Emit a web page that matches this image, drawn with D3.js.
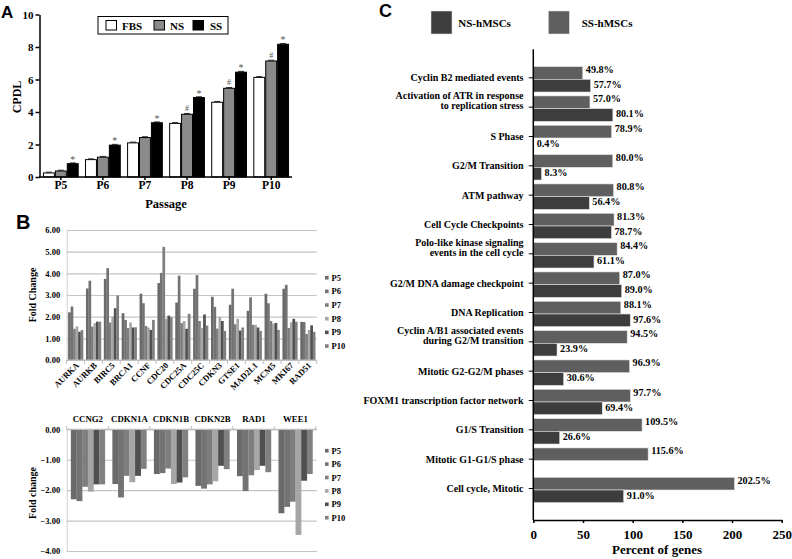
<!DOCTYPE html>
<html><head><meta charset="utf-8">
<script src="https://cdn.jsdelivr.net/npm/d3@7"></script>
<style>
body{margin:0;background:#fff}
svg{display:block}
text{font-family:"Liberation Serif","Times New Roman",serif;font-weight:bold;fill:#000}
</style>
</head><body>
<svg id="c" width="792" height="559"></svg>
<script>
// ---------- Panel A data ----------
const passages = ["P5","P6","P7","P8","P9","P10"];
const groupsA = ["FBS","NS","SS"];
const cpdlFBS = [0.25,1.07,2.10,3.30,4.60,6.13];
const cpdlNS  = [0.37,1.22,2.43,3.86,5.46,7.14];
const cpdlSS  = [0.82,1.96,3.34,4.89,6.45,8.17];
const markNS  = ["","","","#","#","#"];
const markSS  = ["*","*","*","*","*","*"];
const ticksA  = [0,2,4,6,8,10];

// ---------- Panel B data ----------
const seriesB = ["P5","P6","P7","P8","P9","P10"];
const genesUp = ["AURKA","AURKB","BIRC5","BRCA1","CCNF","CDC20","CDC25A","CDC25C","CDKN3","GTSE1","MAD2L1","MCM5","MKI67","RAD51"];
const upP5  = [2.20,3.30,3.74,2.16,3.06,3.55,2.65,3.29,2.92,2.55,2.27,3.06,3.29,1.76];
const upP6  = [2.47,3.66,4.24,1.85,2.62,4.02,3.89,3.92,2.45,3.29,2.89,2.62,3.47,1.75];
const upP7  = [1.44,1.54,1.73,1.47,1.57,5.22,1.70,1.80,1.45,1.65,1.62,1.80,1.48,1.20];
const upP8  = [1.55,1.70,2.00,1.73,1.50,1.90,1.80,1.48,1.98,1.90,1.62,1.68,1.74,1.39];
const upP9  = [1.30,1.77,2.39,1.50,1.39,2.05,1.44,2.10,1.80,1.36,1.50,1.71,1.90,1.60];
const upP10 = [1.38,1.77,2.98,1.51,1.85,1.98,2.13,1.59,1.34,1.50,1.34,1.39,1.77,1.30];
const ticksBUp = [0,1,2,3,4,5,6];

const genesDown = ["CCNG2","CDKN1A","CDKN1B","CDKN2B","RAD1","WEE1"];
const downP5  = [-2.30,-1.80,-1.47,-1.86,-1.54,-2.76];
const downP6  = [-2.36,-2.24,-1.44,-1.95,-2.03,-2.55];
const downP7  = [-1.89,-1.53,-1.29,-1.81,-1.51,-2.38];
const downP8  = [-2.05,-1.74,-1.80,-1.71,-1.34,-3.47];
const downP9  = [-1.81,-1.53,-1.75,-1.20,-1.20,-1.69];
const downP10 = [-1.81,-1.30,-1.58,-1.31,-1.41,-1.47];
const ticksBDown = [0,-1,-2,-3,-4];

// ---------- Panel C data ----------
const pathways = [
  "Cyclin B2 mediated events",
  "Activation of ATR in response|to replication stress",
  "S Phase",
  "G2/M Transition",
  "ATM pathway",
  "Cell Cycle Checkpoints",
  "Polo-like kinase signaling|events in the cell cycle",
  "G2/M DNA damage checkpoint",
  "DNA Replication",
  "Cyclin A/B1 associated events|during G2/M transition",
  "Mitotic G2-G2/M phases",
  "FOXM1 transcription factor network",
  "G1/S Transition",
  "Mitotic G1-G1/S phase",
  "Cell cycle, Mitotic"
];
const pctSS = [49.8,57.0,78.9,80.0,80.8,81.3,84.4,87.0,88.1,94.5,96.9,97.7,109.5,115.6,202.5];
const pctNS = [57.7,80.1,0.4,8.3,56.4,78.7,61.1,89.0,97.6,23.9,30.6,69.4,26.6,null,91.0];
const ticksC = [0,50,100,150,200,250];
const legendC = ["NS-hMSCs","SS-hMSCs"];

// ================= drawing =================
const svg = d3.select("#c");
svg.append("rect").attr("width",792).attr("height",559).attr("fill","#fff");

function panelLetter(t,x,y,s){
  svg.append("text").attr("x",x).attr("y",y).text(t)
    .style("font-family","'Liberation Sans',Arial,sans-serif").style("font-size",s+"px");
}
panelLetter("A",1,18,17);
panelLetter("B",16,229,20);
panelLetter("C",379,17,18);

// ---------- Panel A ----------
{
  const g = svg.append("g");
  const x = d3.scaleBand().domain(passages).range([40,292]).paddingInner(0.15).paddingOuter(0.07);
  const xi = d3.scaleBand().domain(groupsA).range([0,x.bandwidth()]);
  const y = d3.scaleLinear().domain([0,10]).range([177,14.5]);
  const vals = {FBS:cpdlFBS, NS:cpdlNS, SS:cpdlSS};
  const fills = {FBS:"#ffffff", NS:"#8a8a8a", SS:"#000000"};
  passages.forEach((p,i)=>{
    groupsA.forEach(k=>{
      const v = vals[k][i];
      g.append("rect").attr("x",x(p)+xi(k)+0.5).attr("y",y(v))
        .attr("width",xi.bandwidth()-1).attr("height",y(0)-y(v))
        .attr("fill",fills[k]).attr("stroke","#000").attr("stroke-width",1);
      g.append("line").attr("x1",x(p)+xi(k)+3).attr("x2",x(p)+xi(k)+xi.bandwidth()-3)
        .attr("y1",y(v)-0.8).attr("y2",y(v)-0.8).attr("stroke","#000").attr("stroke-width",0.8);
    });
    if(markNS[i]) g.append("text").attr("x",x(p)+xi("NS")+xi.bandwidth()/2).attr("y",y(cpdlNS[i])-3)
      .attr("text-anchor","middle").style("font-size","8px").style("fill","#555").style("font-weight","normal").text(markNS[i]);
    if(markSS[i]) g.append("text").attr("x",x(p)+xi("SS")+xi.bandwidth()/2).attr("y",y(cpdlSS[i])-1)
      .attr("text-anchor","middle").style("font-size","10px").style("fill","#555").style("font-weight","normal").text(markSS[i]);
  });
  const ax = g.append("g").attr("transform","translate(39.5,0)")
    .call(d3.axisLeft(y).tickValues(ticksA).tickSize(4).tickSizeOuter(0).tickPadding(2));
  ax.selectAll("text").style("font-size","11px").style("font-family","'Liberation Serif',serif");
  ax.selectAll("path,line").attr("stroke","#000").attr("stroke-width",1.5);
  const bx = g.append("g").attr("transform","translate(0,177)")
    .call(d3.axisBottom(x).tickSize(3).tickSizeOuter(0).tickPadding(1));
  bx.select(".domain").attr("d","M39,0H292");
  bx.selectAll("text").style("font-size","11.5px").style("font-family","'Liberation Serif',serif");
  bx.selectAll("path,line").attr("stroke","#000").attr("stroke-width",1.5);
  g.append("text").attr("transform","translate(20.5,97) rotate(-90)").attr("text-anchor","middle")
    .style("font-size","12px").text("CPDL");
  g.append("text").attr("x",166).attr("y",208).attr("text-anchor","middle")
    .style("font-size","12.5px").text("Passage");
  g.append("rect").attr("x",98).attr("y",16.5).attr("width",130).attr("height",17.5)
    .attr("fill","#fff").attr("stroke","#000").attr("stroke-width",1);
  const lx = [106,154,193], tx=[122,170,210];
  groupsA.forEach((k,i)=>{
    g.append("rect").attr("x",lx[i]).attr("y",20.5).attr("width",10.5).attr("height",9.5)
      .attr("fill",fills[k]).attr("stroke","#000").attr("stroke-width",1);
    g.append("text").attr("x",tx[i]).attr("y",29.5).style("font-size","11px").text(k);
  });
}

// ---------- Panel B ----------
const colorsB = ["#6a6a6a","#737373","#7e7e7e","#a6a6a6","#505050","#808080"];
function legendB(y0,step){
  seriesB.forEach((s,i)=>{
    svg.append("rect").attr("x",325).attr("y",y0+i*step-1.8).attr("width",3.6).attr("height",3.6).attr("fill",colorsB[i]);
    svg.append("text").attr("x",331.5).attr("y",y0+i*step+3).style("font-size","8.5px").text(s);
  });
}
{
  const g = svg.append("g");
  const x = d3.scaleBand().domain(genesUp).range([66.7,316.7]).paddingInner(0.16).paddingOuter(0.08);
  const xi = d3.scaleBand().domain(seriesB).range([0,x.bandwidth()]);
  const y = d3.scaleLinear().domain([0,6]).range([360,230]);
  const data = [upP5,upP6,upP7,upP8,upP9,upP10];
  const ax = g.append("g").attr("transform","translate(66.7,0)")
    .call(d3.axisLeft(y).tickValues(ticksBUp).tickSize(-250).tickPadding(6.5).tickFormat(d3.format(".2f")));
  ax.select(".domain").attr("stroke","#d0d0d0");
  ax.selectAll(".tick line").attr("stroke","#c4c4c4").attr("stroke-width",1.1);
  ax.selectAll("text").style("font-size","8.5px").style("font-family","'Liberation Serif',serif");
  genesUp.forEach((gn,i)=>{
    seriesB.forEach((s,j)=>{
      const v = data[j][i];
      g.append("rect").attr("x",x(gn)+xi(s)).attr("y",y(v)).attr("width",xi.bandwidth()+0.2)
        .attr("height",y(0)-y(v)).attr("fill",colorsB[j]);
    });
  });
  g.append("line").attr("x1",66.7).attr("x2",316.7).attr("y1",360).attr("y2",360).attr("stroke","#bdbdbd").attr("stroke-width",1.2);
  d3.range(genesUp.length+1).forEach(i=>{
    const xx = 66.7 + i*x.step();
    g.append("line").attr("x1",xx).attr("x2",xx).attr("y1",360).attr("y2",364).attr("stroke","#bdbdbd");
  });
  genesUp.forEach(gn=>{
    const cx = x(gn)+x.bandwidth()/2;
    g.append("text").attr("transform",`translate(${cx+4},${366}) rotate(-45)`)
      .attr("text-anchor","end").style("font-size","8.5px").text(gn);
  });
  g.append("text").attr("transform","translate(36,295) rotate(-90)").attr("text-anchor","middle")
    .style("font-size","10px").text("Fold Change");
  legendB(277.7,13.67);
}
{
  const g = svg.append("g");
  const x = d3.scaleBand().domain(genesDown).range([66.7,316.7]).paddingInner(0.18).paddingOuter(0.1);
  const xi = d3.scaleBand().domain(seriesB).range([0,x.bandwidth()]);
  const y = d3.scaleLinear().domain([-4,0]).range([551,429.3]);
  const data = [downP5,downP6,downP7,downP8,downP9,downP10];
  const ax = g.append("g").attr("transform","translate(66.7,0)")
    .call(d3.axisLeft(y).tickValues(ticksBDown).tickSize(-250).tickPadding(6.5).tickFormat(d3.format(".2f")));
  ax.select(".domain").attr("stroke","#d0d0d0");
  ax.selectAll(".tick line").attr("stroke","#c4c4c4").attr("stroke-width",1.1);
  ax.selectAll("text").style("font-size","8.5px").style("font-family","'Liberation Serif',serif");
  genesDown.forEach((gn,i)=>{
    seriesB.forEach((s,j)=>{
      const v = data[j][i];
      g.append("rect").attr("x",x(gn)+xi(s)).attr("y",y(0)).attr("width",xi.bandwidth()+0.2)
        .attr("height",y(v)-y(0)).attr("fill",colorsB[j]);
    });
    g.append("text").attr("x",x(gn)+x.bandwidth()/2).attr("y",421.5).attr("text-anchor","middle")
      .style("font-size","8.8px").text(gn);
  });
  g.append("line").attr("x1",66.7).attr("x2",316.7).attr("y1",429.3).attr("y2",429.3).attr("stroke","#bdbdbd").attr("stroke-width",1.2);
  d3.range(genesDown.length+1).forEach(i=>{
    const xx = 66.7 + i*x.step();
    g.append("line").attr("x1",xx).attr("x2",xx).attr("y1",426).attr("y2",429.3).attr("stroke","#bdbdbd");
  });
  g.append("text").attr("transform","translate(36,493) rotate(-90)").attr("text-anchor","middle")
    .style("font-size","10px").text("Fold change");
  legendB(450.7,13.4);
}

// ---------- Panel C ----------
{
  const g = svg.append("g");
  const x = d3.scaleLinear().domain([0,250]).range([533.3,781.7]);
  const y = d3.scaleBand().domain(pathways).range([49.3,520]).paddingInner(0.134).paddingOuter(0.59);
  const hb = y.bandwidth()/2;
  const cSS = "#5f5f5f", cNS = "#3d3d3d";
  pathways.forEach((p,i)=>{
    const y0 = y(p), c = y0 + hb;
    g.append("rect").attr("x",x(0)).attr("y",y0).attr("width",x(pctSS[i])-x(0)).attr("height",hb)
      .attr("fill",cSS).attr("stroke","#e4e4e4").attr("stroke-width",0.6);
    g.append("text").attr("x",x(pctSS[i])+3).attr("y",y0+6.5).style("font-size","10.2px")
      .text(d3.format(".1f")(pctSS[i])+"%");
    if(pctNS[i]!==null){
      g.append("rect").attr("x",x(0)).attr("y",c).attr("width",x(pctNS[i])-x(0)).attr("height",hb)
        .attr("fill",cNS).attr("stroke","#e4e4e4").attr("stroke-width",0.6);
      g.append("text").attr("x",x(pctNS[i])+3).attr("y",c+8.6).style("font-size","10.2px")
        .text(d3.format(".1f")(pctNS[i])+"%");
    }
    g.append("line").attr("x1",x(0)-4.5).attr("x2",x(0)).attr("y1",c-1.5).attr("y2",c-1.5).attr("stroke","#000").attr("stroke-width",1);
    const lines = p.split("|");
    const t = g.append("text").attr("text-anchor","end").style("font-size","10px");
    if(lines.length===1){
      t.attr("x",523.5).attr("y",c+2).text(lines[0]);
    } else {
      t.append("tspan").attr("x",523.5).attr("y",c-9.3).text(lines[0]);
      t.append("tspan").attr("x",523.5).attr("y",c+0.2).text(lines[1]);
    }
  });
  g.append("line").attr("x1",x(0)).attr("x2",x(0)).attr("y1",49.3).attr("y2",520).attr("stroke","#000").attr("stroke-width",1.5);
  const bx = g.append("g").attr("transform","translate(0,520)")
    .call(d3.axisBottom(x).tickValues(ticksC).tickSize(3).tickSizeOuter(0).tickPadding(7));
  bx.selectAll("path,line").attr("stroke","#000").attr("stroke-width",1.5);
  bx.selectAll("text").style("font-size","13px").style("font-family","'Liberation Serif',serif");
  g.append("text").attr("x",657).attr("y",554).attr("text-anchor","middle").style("font-size","13px").text("Percent of genes");
  const lc = [cNS,cSS], lxs=[431,548.3], txs=[458.3,581.7];
  legendC.forEach((l,i)=>{
    g.append("rect").attr("x",lxs[i]).attr("y",11).attr("width",21).attr("height",23)
      .attr("fill",lc[i]).attr("stroke","#ddd").attr("stroke-width",0.6);
    g.append("text").attr("x",txs[i]).attr("y",27).style("font-size",11+"px").text(l);
  });
}
</script>
</body></html>
